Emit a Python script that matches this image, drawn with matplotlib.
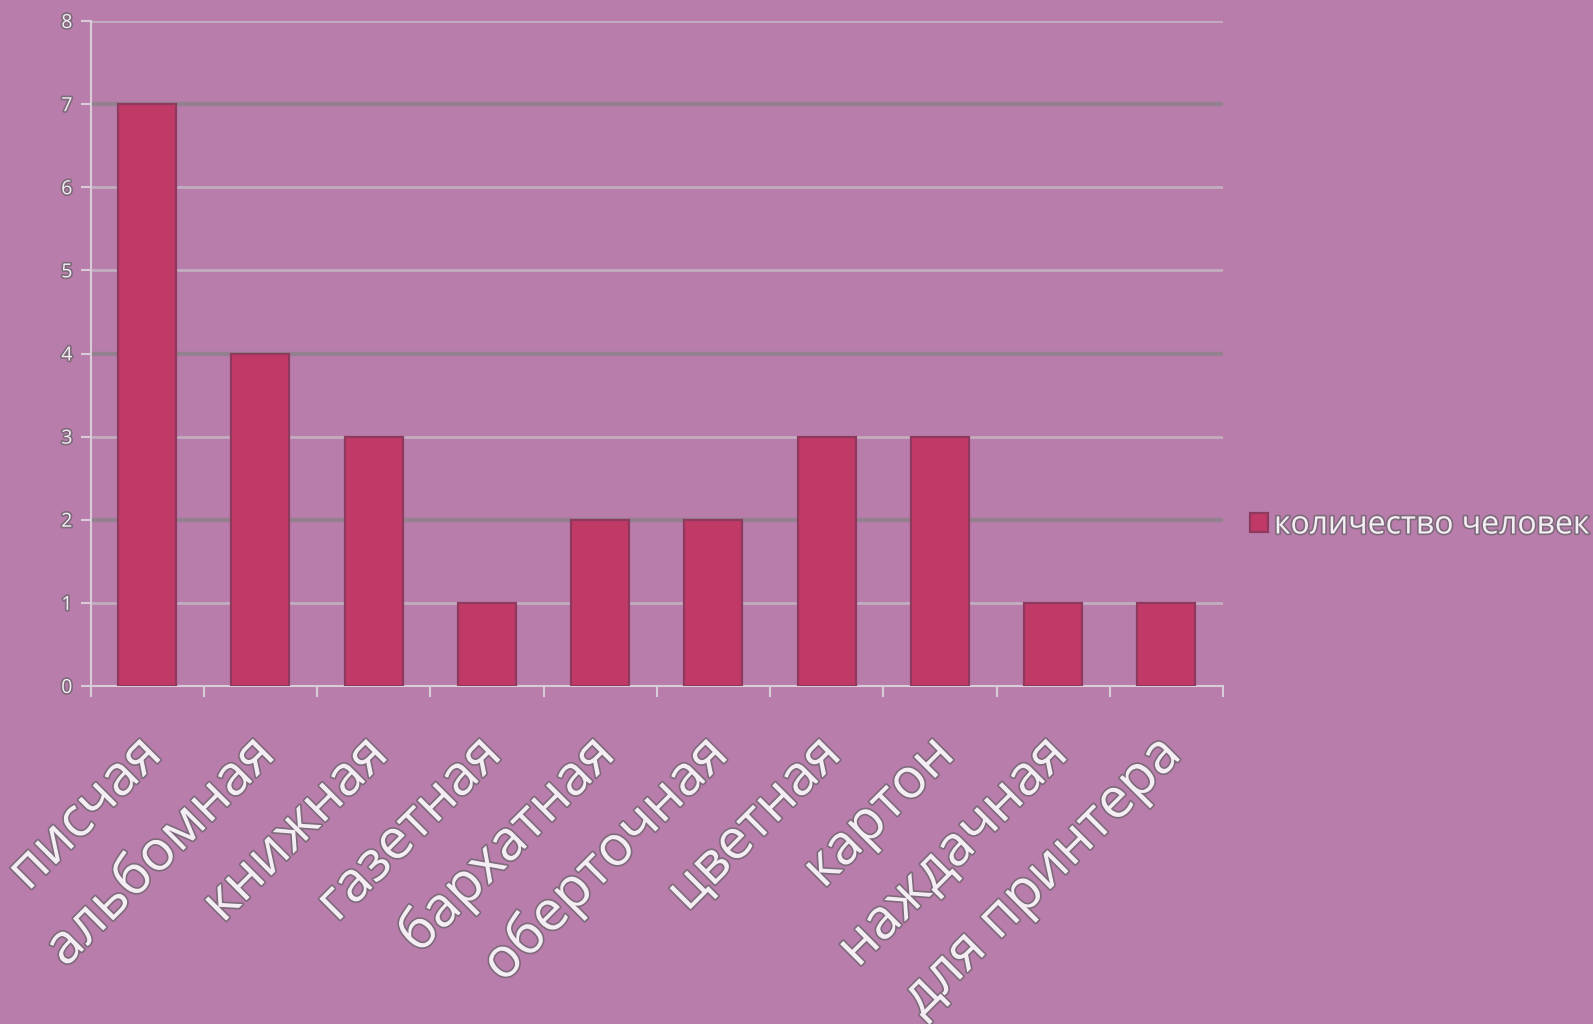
import matplotlib
matplotlib.use("Agg")
import matplotlib.pyplot as plt
import matplotlib.patheffects as pe
import numpy as np

categories = ["писчая", "альбомная", "книжная", "газетная", "бархатная",
              "оберточная", "цветная", "картон", "наждачная", "для принтера"]
values = [7, 4, 3, 1, 2, 2, 3, 3, 1, 1]
series_name = "количество человек"
yticks = [0, 1, 2, 3, 4, 5, 6, 7, 8]
dark_grid = [7, 4, 2]

bg = "#b97dab"
bar_color = "#c13966"
bar_edge = "#8e3a5e"
grid_light = "#c2adbf"
grid_dark = "#94808f"
text_color = "#f4eef4"
outline = [pe.withStroke(linewidth=2.4, foreground="#7d6a7a")]

plt.rcParams['font.family'] = ['Open Sans', 'DejaVu Sans']

W, H = 1593, 1024
fig = plt.figure(figsize=(W / 100, H / 100), dpi=100, facecolor=bg)
ax = fig.add_axes([90.5 / W, 1 - 686 / H, (1223 - 90.5) / W, (686 - 21) / H])
ax.set_facecolor(bg)

x = np.arange(len(categories))
bars = ax.bar(x, values, width=0.51, color=bar_color, edgecolor=bar_edge,
              linewidth=1.6, zorder=3, label=series_name)

ax.set_xlim(-0.5, len(categories) - 0.5)
ax.set_ylim(0, 8)
ax.set_yticks(yticks)
ax.set_yticklabels([str(t) for t in yticks], fontsize=14, color=text_color)
for t in ax.get_yticklabels():
    t.set_path_effects(outline)

for yt in yticks[1:]:
    if yt in dark_grid:
        ax.axhline(yt, color=grid_dark, linewidth=3.2, zorder=1)
    else:
        ax.axhline(yt, color=grid_light, linewidth=2.0, zorder=1)

# category labels, rotated 45 degrees, anchored at their top-right end
ax.set_xticks(x)
ax.set_xticklabels([])
ax.tick_params(axis='x', which='major', length=0)
for xi, cat in zip(x, categories):
    ax.annotate(cat, xy=(xi, 0), xycoords=('data', 'axes fraction'),
                xytext=(-10, -29), textcoords='offset points',
                rotation=45, ha='right', va='top', rotation_mode='anchor',
                fontsize=40, color=text_color, path_effects=outline,
                annotation_clip=False)

ax.set_xticks(np.arange(-0.5, len(categories) + 0.5, 1), minor=True)
ax.tick_params(axis='x', which='minor', length=8, color="#d8ccd8", width=1.5, direction='out')
ax.tick_params(axis='y', length=7, color="#d8ccd8", width=1.5, pad=6)

for s in ['top', 'right']:
    ax.spines[s].set_visible(False)
ax.spines['left'].set_color("#d8ccd8")
ax.spines['left'].set_linewidth(1.5)
ax.spines['bottom'].set_color("#d8ccd8")
ax.spines['bottom'].set_linewidth(1.5)

leg = fig.legend(handles=[bars], labels=[series_name], loc='center left',
                 bbox_to_anchor=(1250 / W, 1 - 525 / H), frameon=False,
                 fontsize=23, handlelength=0.55, handleheight=0.55,
                 handletextpad=0.2, borderaxespad=0, borderpad=0)
for t in leg.get_texts():
    t.set_color(text_color)
    t.set_path_effects(outline)

fig.savefig("out.png", dpi=100, facecolor=bg)
